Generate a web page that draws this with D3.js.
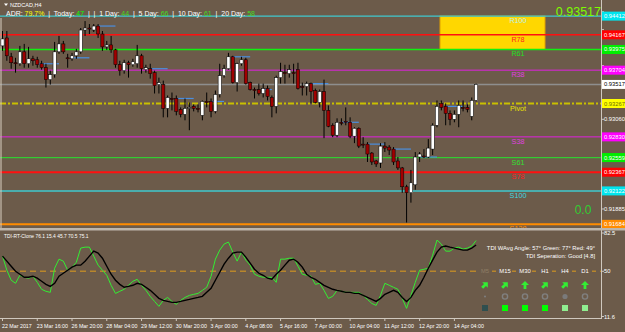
<!DOCTYPE html>
<html><head><meta charset="utf-8">
<script src="https://cdn.jsdelivr.net/npm/d3@7"></script>
<style>
body{margin:0;background:#6C5B4A;overflow:hidden}
svg{display:block}
text{font-family:"Liberation Sans",Arial,sans-serif}
</style>
</head><body>
<svg id="c" width="625" height="332"></svg>
<script>
// ---------------- DATA ----------------
const symbolTitle = "NZDCAD,H4";
const timeLabels = ["22 Mar 2017","23 Mar 16:00","26 Mar 20:00","28 Mar 04:00","29 Mar 12:00","30 Mar 20:00","3 Apr 00:00","4 Apr 08:00","5 Apr 16:00","7 Apr 00:00","10 Apr 04:00","11 Apr 12:00","12 Apr 20:00","14 Apr 04:00"];
const timeLabelBars = [0,8,16,24,32,40,48,56,64,72,80,88,96,104];

const open = [
0.94022,0.94126,0.93879,0.93801,0.93788,0.93944,0.93788,0.93853,0.93840,0.93788,
0.93736,0.93580,0.93645,0.93944,0.94048,0.93866,0.93853,0.93892,0.93944,0.94230,
0.94256,0.94230,0.94282,0.94178,0.94009,0.94035,0.93970,0.93775,0.93697,0.93801,
0.93775,0.93788,0.93892,0.93710,0.93723,0.93671,0.93515,0.93515,0.93203,0.93333,
0.93333,0.93190,0.93125,0.93203,0.93229,0.93203,0.93112,0.93294,0.93294,0.93164,
0.93385,0.93632,0.93723,0.93879,0.93541,0.93788,0.93840,0.93541,0.93450,0.93450,
0.93398,0.93463,0.93346,0.93229,0.93606,0.93671,0.93658,0.93671,0.93710,0.93489,
0.93489,0.93528,0.93437,0.93281,0.93424,0.93177,0.92982,0.92852,0.93021,0.93034,
0.93021,0.92839,0.92943,0.92735,0.92735,0.92618,0.92514,0.92488,0.92709,0.92696,
0.92670,0.92514,0.92423,0.92176,0.92098,0.92202,0.92566,0.92579,0.92566,0.92670,
0.92982,0.93268,0.93229,0.93138,0.93060,0.93125,0.93216,0.93216,0.93099,0.93307];
const high = [
0.94217,0.94217,0.93931,0.93866,0.94022,0.94048,0.94009,0.93892,0.93879,0.93827,
0.93788,0.93697,0.94074,0.94152,0.94087,0.93918,0.93931,0.93983,0.94256,0.94347,
0.94308,0.94308,0.94308,0.94217,0.94087,0.94152,0.93983,0.93827,0.93840,0.93827,
0.93853,0.94035,0.93918,0.93775,0.93788,0.93697,0.93606,0.93567,0.93372,0.93411,
0.93372,0.93216,0.93333,0.93281,0.93255,0.93255,0.93307,0.93411,0.93333,0.93437,
0.93788,0.93775,0.93931,0.93892,0.93801,0.93879,0.93866,0.93554,0.93476,0.93528,
0.93528,0.93502,0.93372,0.93632,0.93801,0.93775,0.93775,0.93788,0.93801,0.93541,
0.93554,0.93541,0.93463,0.93450,0.93580,0.93242,0.93008,0.93073,0.93073,0.93216,
0.93086,0.92956,0.92956,0.92826,0.92761,0.92631,0.92527,0.92748,0.92761,0.92722,
0.92696,0.92566,0.92436,0.92202,0.92397,0.92631,0.92631,0.92670,0.92800,0.93008,
0.93307,0.93307,0.93268,0.93177,0.93177,0.93307,0.93307,0.93255,0.93346,0.93528];
const low = [
0.93957,0.93827,0.93723,0.93671,0.93762,0.93736,0.93736,0.93762,0.93736,0.93710,
0.93476,0.93515,0.93606,0.93918,0.93918,0.93736,0.93827,0.93853,0.93918,0.94152,
0.94178,0.94204,0.94126,0.93957,0.93970,0.93931,0.93736,0.93632,0.93658,0.93606,
0.93749,0.93736,0.93658,0.93671,0.93593,0.93398,0.93398,0.93086,0.93086,0.93177,
0.93112,0.93086,0.93047,0.92917,0.93164,0.93151,0.93047,0.93216,0.93086,0.93138,
0.93346,0.93606,0.93710,0.93528,0.93424,0.93762,0.93515,0.93437,0.93333,0.93372,
0.93346,0.93307,0.93086,0.93138,0.93528,0.93528,0.93606,0.93528,0.93450,0.93372,
0.93372,0.93268,0.93268,0.93216,0.92813,0.92956,0.92826,0.92826,0.92982,0.92982,
0.92813,0.92748,0.92683,0.92683,0.92501,0.92462,0.92436,0.92423,0.92631,0.92592,
0.92462,0.92397,0.92098,0.91708,0.91968,0.92137,0.92501,0.92553,0.92553,0.92592,
0.92956,0.93177,0.92982,0.92982,0.93021,0.92956,0.93164,0.93151,0.93047,0.93294];
const close = [
0.94113,0.93892,0.93801,0.93788,0.93944,0.93788,0.93853,0.93827,0.93775,0.93736,
0.93580,0.93645,0.93944,0.94048,0.93944,0.93860,0.93892,0.93944,0.94230,0.94256,
0.94250,0.94282,0.94178,0.94009,0.94035,0.93970,0.93775,0.93697,0.93801,0.93775,
0.93814,0.93892,0.93723,0.93736,0.93658,0.93502,0.93541,0.93203,0.93346,0.93327,
0.93164,0.93125,0.93203,0.93216,0.93203,0.93197,0.93294,0.93288,0.93164,0.93385,
0.93632,0.93723,0.93879,0.93541,0.93788,0.93840,0.93528,0.93450,0.93444,0.93398,
0.93463,0.93359,0.93229,0.93606,0.93684,0.93664,0.93710,0.93664,0.93463,0.93483,
0.93528,0.93424,0.93281,0.93424,0.93177,0.92969,0.92852,0.93021,0.93015,0.93021,
0.92839,0.92943,0.92709,0.92729,0.92605,0.92501,0.92475,0.92709,0.92683,0.92657,
0.92501,0.92423,0.92176,0.92098,0.92228,0.92566,0.92605,0.92572,0.92683,0.92982,
0.93229,0.93216,0.93138,0.93060,0.93125,0.93242,0.93210,0.93190,0.93307,0.93517];

const pivotNames  = ["R100","R78","R61","R38","Pivot","S38","S61","S78","S100","S138"];
const pivotValues = [0.94412,0.94167,0.93975,0.93704,0.93267,0.92830,0.92559,0.92367,0.92122,0.91684];
const currentPrice = 0.93517;
const priceTicks = [0.94470,0.94235,0.94000,0.93765,0.93530,0.93295,0.93060,0.92825,0.92590,0.92355,0.92120,0.91885,0.91650];

// short blue level markers: [fromBar, toBar, price]
const blueLevels = [[8,13,0.93788],[16,20,0.93866],[22,26,0.94282],[34,38,0.93723],[40,44,0.93333],
  [48,51,0.93294],[53,57,0.93879],[60,62,0.93450],[71,75,0.93528],[78,82,0.93021],[84,88,0.92735],
  [90,94,0.92670],[96,100,0.92566],[102,106,0.93229]];

const adrLabels = ["ADR: ","  |  Today: ","  |  |  1 Day: ","  |  5 Day: ","  |  10 Day: ","  |  20 Day: "];
const adrValues = ["79.7%","47","44","66","61","58"];

const tdiGreen = [
62.9,50.9,42.4,39.8,46.6,44.9,44.1,45.8,40.6,34.7,
33.0,32.1,52.6,60.3,58.6,50.9,53.5,57.7,69.7,70.5,
70.5,62.9,55.2,50.9,46.6,38.1,31.2,33.0,34.7,38.1,
41.5,43.2,38.1,33.8,28.7,24.4,20.2,25.3,27.8,24.4,
21.9,25.3,27.8,29.5,30.4,31.2,33.8,36.4,45.8,60.3,
68.0,73.1,74.8,66.3,58.6,66.3,59.4,55.2,47.5,45.8,
44.9,44.9,44.9,40.6,60.3,60.3,61.1,61.1,54.3,47.5,
46.6,45.8,38.9,39.8,33.8,27.0,28.7,33.8,33.0,32.1,
32.1,32.1,32.1,29.5,26.1,22.7,21.0,29.5,39.8,38.1,
36.4,34.7,27.0,18.5,29.5,40.6,50.9,51.7,52.6,63.7,
76.5,73.1,67.1,67.1,69.7,70.5,68.8,69.7,71.4,76.1];
const tdiBlack = [
62.9,58.6,54.3,50.0,47.5,44.9,44.9,45.8,44.1,41.5,
38.9,37.2,39.8,45.8,48.3,50.9,53.5,55.2,55.2,58.6,
62.9,67.1,65.4,61.1,54.3,47.5,42.4,38.9,36.4,37.2,
38.1,39.8,38.9,36.4,33.8,30.4,27.0,25.3,24.4,23.6,
23.6,24.4,25.3,26.1,27.0,27.8,28.7,32.1,35.5,42.4,
49.2,56.0,61.1,65.4,66.3,66.3,62.0,56.9,51.7,48.3,
46.6,44.1,43.2,47.5,50.9,55.2,59.4,60.3,57.7,53.5,
47.5,44.9,43.2,40.6,38.1,36.4,34.7,33.8,33.0,32.1,
32.1,31.2,31.2,29.5,27.8,26.1,24.4,27.0,30.4,32.1,
33.8,32.1,27.8,24.4,27.8,33.8,38.1,44.9,52.6,59.4,
66.3,70.5,71.4,70.5,69.7,68.8,68.0,68.0,69.7,72.3];
const tdiTitle = "TDI-RT-Clone 76.1 15.4 45.7 70.5 75.1";
const tdiLevel = 50;
const tdiAxisLabels = [82.5, 50, 11.6];
const tdiInfo1 = "TDI WAvg Angle: 57°  Green: 77°  Red: 49°";
const tdiInfo2 = "TDI Seperation: Good [4.8]";
const tfNames   = ["M5","M15","M30","H1","H4","D1"];
const tfArrows  = ["ne","ne","up","ne","ne","up"];
const tfCircles = ["dot","ring","ring","ring","disc","ring"];
const tfSquares = ["#2F4F4F","#00FF00","#00FF00","#00FF00","#90EE90","#90EE90"];
const cornerValue = "0.0";

// ---------------- DRAWING ----------------
const svg = d3.select("#c");
const BG = "#6C5B4A", AX = "#CFC8BE";
const plotR = 601, mainBot = 228, indTop = 231, indBot = 318;
svg.append("rect").attr("width",625).attr("height",332).attr("fill",BG);

const x = d3.scaleLinear().domain([0,109]).range([2.5, 476.1]);
const y = d3.scaleLinear().domain([0.91636,0.94466]).range([228,12]);
const yi = d3.scaleLinear().domain([11.6,82.5]).range([316.5,233]);

const defs = svg.append("defs");
defs.append("clipPath").attr("id","mclip").append("rect").attr("x",0).attr("y",0).attr("width",plotR).attr("height",mainBot);
defs.append("clipPath").attr("id","iclip").append("rect").attr("x",0).attr("y",indTop).attr("width",plotR).attr("height",indBot-indTop);

const main = svg.append("g").attr("clip-path","url(#mclip)");

const style = {
 R100:{c:"#3FC9CF",w:1.2,t:"#B8F0E8",bg:"#00E5EE"},
 R78:{c:"#FF1010",w:1.5,t:"#FF2020",bg:"#FF0000"},
 R61:{c:"#10F010",w:1.5,t:"#20E020",bg:"#00EE00"},
 R38:{c:"#E020E0",w:1,t:"#E040E0",bg:"#FF00FF"},
 Pivot:{c:"#C9C000",w:2,t:"#E8E000",bg:"#FFFF00",dash:"6,2,2,2"},
 S38:{c:"#E020E0",w:1,t:"#E040E0",bg:"#FF00FF"},
 S61:{c:"#33CC33",w:1.2,t:"#30E030",bg:"#00EE00"},
 S78:{c:"#FF1010",w:2,t:"#FF2020",bg:"#FF0000"},
 S100:{c:"#3FC9CF",w:1.5,t:"#40D8E0",bg:"#00E5EE"},
 S138:{c:"#FF8C00",w:2,t:"#FF8C00",bg:"#FF8C00"}
};

// target zone box
main.append("rect")
  .attr("x",440).attr("width",105)
  .attr("y",y(pivotValues[0])).attr("height",y(pivotValues[2])-y(pivotValues[0]))
  .attr("fill","#FFD700").attr("stroke","#E0A000").attr("stroke-width",1);

// pivot lines
pivotNames.forEach((n,i)=>{
  const s = style[n];
  main.append("line").attr("x1",0).attr("x2",plotR)
    .attr("y1",y(pivotValues[i])).attr("y2",y(pivotValues[i]))
    .attr("stroke",s.c).attr("stroke-width",s.w)
    .attr("stroke-dasharray",s.dash||null);
});
// bid line
main.append("line").attr("x1",0).attr("x2",plotR).attr("y1",y(currentPrice)).attr("y2",y(currentPrice))
  .attr("stroke","#8E8E8E").attr("stroke-width",1.5);

// left border line
main.append("line").attr("x1",1).attr("x2",1).attr("y1",18).attr("y2",mainBot).attr("stroke","#D8CFC0").attr("stroke-width",1);

// blue level markers
main.selectAll(".bl").data(blueLevels).enter().append("line")
  .attr("x1",d=>x(d[0])).attr("x2",d=>x(d[1]))
  .attr("y1",d=>y(d[2])).attr("y2",d=>y(d[2]))
  .attr("stroke","#4A8FE0").attr("stroke-width",1.2);

// candles
const idx = d3.range(open.length);
const cg = main.append("g");
cg.selectAll(".w").data(idx).enter().append("line")
  .attr("x1",i=>x(i)).attr("x2",i=>x(i))
  .attr("y1",i=>y(high[i])).attr("y2",i=>y(low[i]))
  .attr("stroke","#000").attr("stroke-width",1);
cg.selectAll(".b").data(idx).enter().append("rect")
  .attr("x",i=>x(i)-1.6).attr("width",3.2)
  .attr("y",i=>y(Math.max(open[i],close[i])))
  .attr("height",i=>Math.max(1,Math.abs(y(open[i])-y(close[i]))))
  .attr("fill",i=>close[i]>=open[i]?"#FFFFFF":"#A00000")
  .attr("stroke","#000").attr("stroke-width",0.5);

// pivot labels
pivotNames.forEach((n,i)=>{
  main.append("text").attr("x",518).attr("y",y(pivotValues[i])+7)
    .attr("text-anchor","middle").attr("font-size",7.2)
    .attr("fill",style[n].t).text(n);
});

// corner texts
svg.append("text").attr("x",601).attr("y",16).attr("text-anchor","end")
  .attr("font-size",12.5).attr("fill","#7CFC00").text(currentPrice.toFixed(5));
svg.append("text").attr("x",583).attr("y",214).attr("text-anchor","middle")
  .attr("font-size",12).attr("fill","#32CD32").text(cornerValue);

// title
svg.append("path").attr("d","M4,3.5 L8,3.5 L6,6 Z").attr("fill","#fff");
svg.append("text").attr("x",10).attr("y",7).attr("font-size",5.5).attr("fill","#fff").text(symbolTitle);
const adr = svg.append("text").attr("x",6).attr("y",15.5).attr("font-size",7)
  .attr("textLength",249).attr("lengthAdjust","spacing").attr("xml:space","preserve");
const adrColors = ["#FFFF00","#00FF00","#44DD22","#44DD22","#44DD22","#44DD22"];
adrLabels.forEach((l,i)=>{
  adr.append("tspan").attr("fill","#fff").text(l);
  adr.append("tspan").attr("fill",adrColors[i]).text(adrValues[i]);
});

// price axis
svg.append("line").attr("x1",plotR+0.5).attr("x2",plotR+0.5).attr("y1",0).attr("y2",indBot).attr("stroke",AX).attr("stroke-width",1);
const pa = svg.append("g");
const labelled = pivotValues.concat([currentPrice]);
priceTicks.forEach(p=>{
  pa.append("line").attr("x1",plotR).attr("x2",plotR+3).attr("y1",y(p)).attr("y2",y(p)).attr("stroke",AX);
  const hidden = labelled.some(v=>Math.abs(y(v)-y(p))<8);
  if(!hidden) pa.append("text").attr("x",604).attr("y",y(p)+2).attr("font-size",5.8).attr("fill","#fff").text(p.toFixed(5));
});
function axisLabel(v,bg,fg){
  pa.append("rect").attr("x",plotR+1).attr("y",y(v)-4.5).attr("width",23).attr("height",9).attr("fill",bg);
  pa.append("text").attr("x",604).attr("y",y(v)+2).attr("font-size",5.8).attr("fill",fg).text(v.toFixed(5));
}
pivotNames.forEach((n,i)=>{
  const fg = n==="Pivot" ? "#707000" : "#FFFFFF";
  axisLabel(pivotValues[i], style[n].bg, fg);
});
axisLabel(currentPrice,"#FFFFFF","#000");

// pane separator
svg.append("rect").attr("x",0).attr("y",228).attr("width",625).attr("height",2.5).attr("fill","#BDB6AC");

// ---------------- indicator ----------------
const ind = svg.append("g");
const ic = ind.append("g").attr("clip-path","url(#iclip)");
ic.append("line").attr("x1",0).attr("x2",plotR).attr("y1",yi(tdiLevel)).attr("y2",yi(tdiLevel))
  .attr("stroke","#B8862B").attr("stroke-width",1.5).attr("stroke-dasharray","6,4");
const lineGen = arr => d3.line().x((d,i)=>x(i)).y(d=>yi(d))(arr);
ic.append("path").attr("d",lineGen(tdiGreen)).attr("fill","none").attr("stroke","#33EE33").attr("stroke-width",1);
ic.append("path").attr("d",lineGen(tdiBlack)).attr("fill","none").attr("stroke","#000").attr("stroke-width",1.4);

ind.append("text").attr("x",4).attr("y",237.5).attr("font-size",4.9).attr("fill","#fff").text(tdiTitle);
tdiAxisLabels.forEach(v=>{
  ind.append("line").attr("x1",plotR).attr("x2",plotR+3).attr("y1",yi(v)).attr("y2",yi(v)).attr("stroke",AX);
  ind.append("text").attr("x",604).attr("y",yi(v)+2).attr("font-size",5.8).attr("fill","#fff").text(v);
});
ind.append("text").attr("x",595).attr("y",250).attr("text-anchor","end").attr("font-size",5.8).attr("fill","#fff").text(tdiInfo1);
ind.append("text").attr("x",595).attr("y",257.5).attr("text-anchor","end").attr("font-size",5.8).attr("fill","#fff").text(tdiInfo2);

const colX = d3.scalePoint().domain(tfNames).range([485,585]);
tfNames.forEach((n,i)=>{
  const cx = colX(n);
  ind.append("rect").attr("x",cx-7).attr("y",267).attr("width",14).attr("height",7).attr("fill",BG);
  ind.append("text").attr("x",cx).attr("y",273).attr("text-anchor","middle").attr("font-size",5.8)
    .attr("fill",i===0?"#8E7E66":"#fff").text(n);
  ind.append("path").attr("d","M0,-4 L4,0 L1.4,0 L1.4,4 L-1.4,4 L-1.4,0 L-4,0 Z")
    .attr("fill","#33EE33")
    .attr("transform",`translate(${cx},${285}) rotate(${tfArrows[i]==="ne"?45:0})`);
  const c = tfCircles[i];
  if(c==="ring") ind.append("circle").attr("cx",cx).attr("cy",296.5).attr("r",2.6).attr("fill","none").attr("stroke","#808080").attr("stroke-width",1.4);
  else if(c==="disc") ind.append("circle").attr("cx",cx).attr("cy",296.5).attr("r",2.6).attr("fill","#7A7A7A");
  else ind.append("circle").attr("cx",cx).attr("cy",296.5).attr("r",1).attr("fill","#808080");
  ind.append("rect").attr("x",cx-3).attr("y",305).attr("width",6).attr("height",6).attr("fill",tfSquares[i]);
});

// time axis
svg.append("line").attr("x1",0).attr("x2",plotR+1).attr("y1",indBot+0.5).attr("y2",indBot+0.5).attr("stroke",AX);
timeLabelBars.forEach((b,i)=>{
  svg.append("line").attr("x1",x(b)).attr("x2",x(b)).attr("y1",indBot).attr("y2",indBot+3).attr("stroke",AX);
  svg.append("text").attr("x",x(b)-0.5).attr("y",327.5).attr("font-size",5.3).attr("fill","#fff").text(timeLabels[i]);
});
</script>
</body></html>
